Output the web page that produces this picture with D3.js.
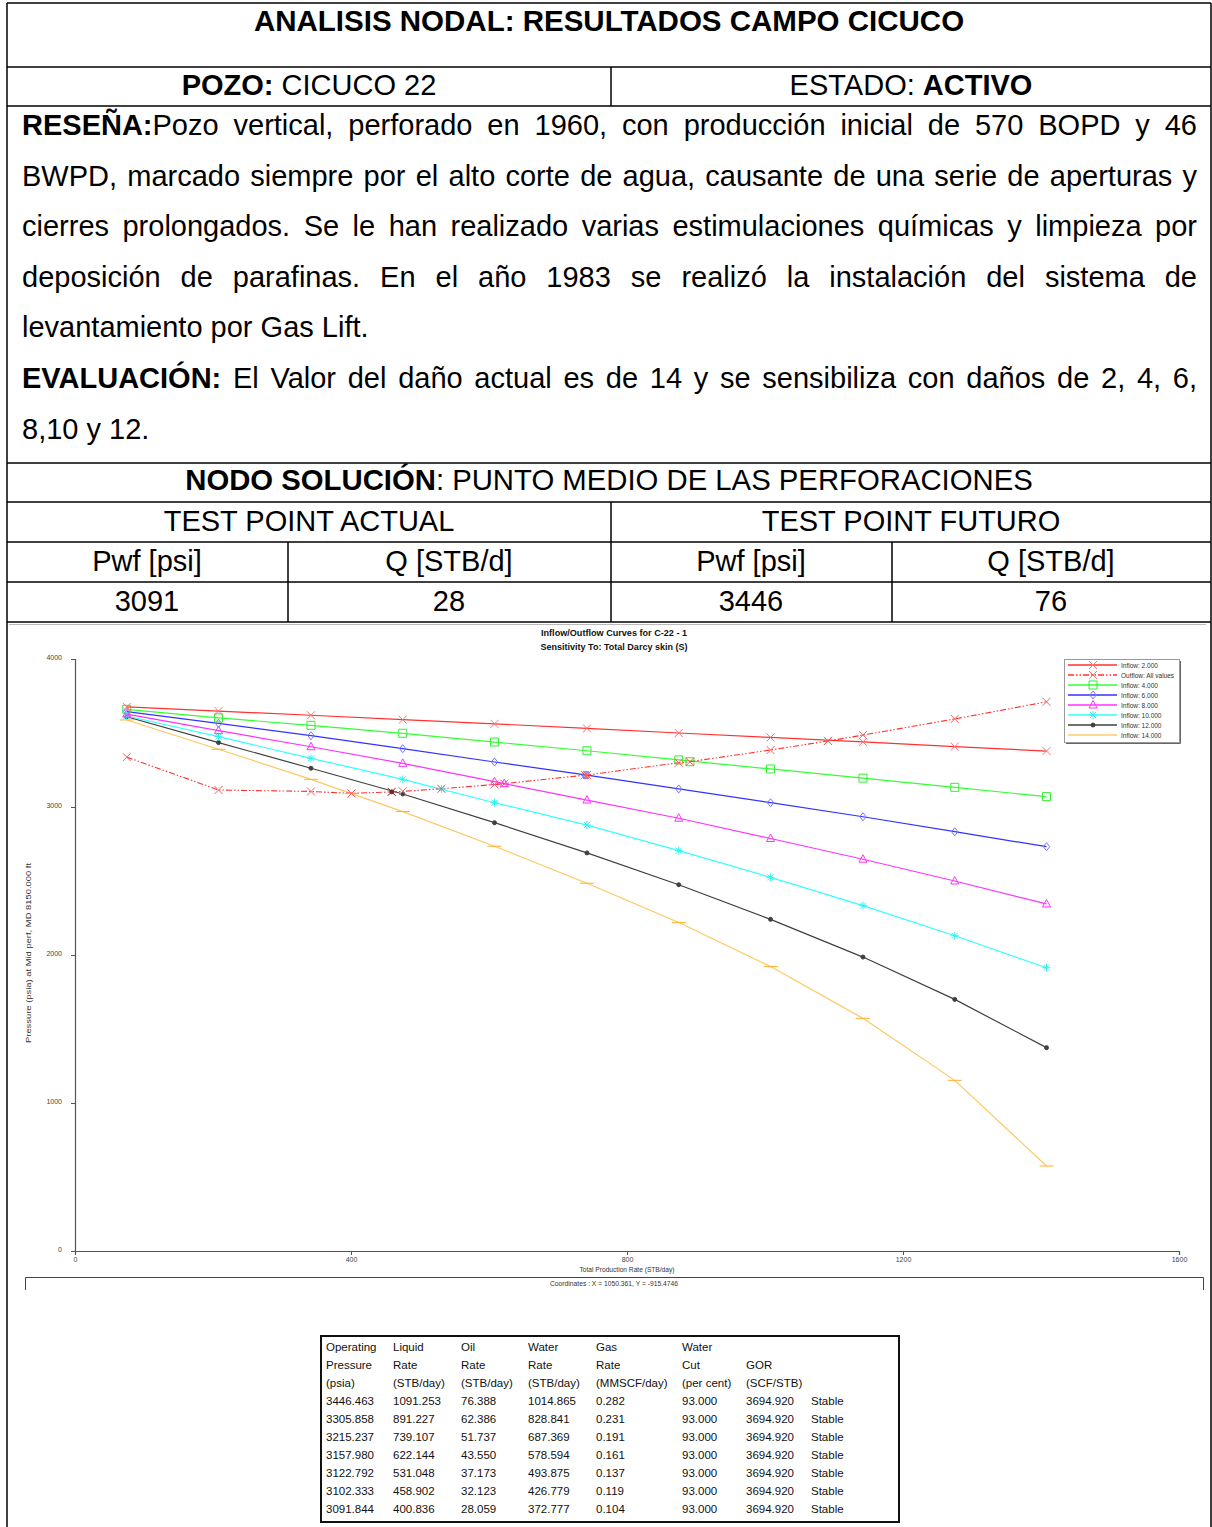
<!DOCTYPE html>
<html>
<head>
<meta charset="utf-8">
<script src="https://cdn.jsdelivr.net/npm/d3@7/dist/d3.min.js"></script>
<style>
  html, body { margin: 0; padding: 0; background: #fff; }
  svg { display: block; font-family: "Liberation Sans", Arial, sans-serif; }
</style>
</head>
<body>
<script>
// ---------------- DATA ----------------
const rates = [75, 208, 342, 475, 608, 742, 875, 1008, 1142, 1275, 1408];
const inflow2  = [3676, 3648, 3620, 3590, 3562, 3531, 3500, 3470, 3440, 3408, 3378];
const inflow4  = [3660, 3602, 3552, 3498, 3439, 3380, 3318, 3257, 3195, 3133, 3070];
const inflow6  = [3644, 3565, 3482, 3394, 3304, 3216, 3122, 3029, 2934, 2833, 2732];
const inflow8  = [3628, 3516, 3407, 3295, 3171, 3047, 2924, 2787, 2647, 2500, 2345];
const inflow10 = [3615, 3475, 3329, 3187, 3029, 2878, 2705, 2525, 2334, 2130, 1914];
const inflow12 = [3610, 3435, 3262, 3088, 2894, 2690, 2475, 2241, 1986, 1700, 1374];
const inflow14 = [3588, 3390, 3187, 2969, 2735, 2485, 2220, 1922, 1572, 1153, 574];
const outflowRates = [75, 208, 342, 401, 459, 475, 531, 608, 622, 739, 742, 875, 891, 1008, 1091, 1142, 1275, 1408];
const outflowPress = [3337, 3115, 3105, 3092, 3102, 3106, 3123, 3152, 3158, 3215, 3216, 3299, 3306, 3385, 3446, 3486, 3595, 3711];
const outflowMarkerRates = [75, 208, 342, 475, 608, 742, 875, 1008, 1142, 1275, 1408];
const outflowMarkerPress = [3337, 3115, 3105, 3106, 3152, 3216, 3299, 3385, 3486, 3595, 3711];

const legendLabels = ["Inflow: 2.000", "Outflow: All values", "Inflow: 4.000", "Inflow: 6.000",
                      "Inflow: 8.000", "Inflow: 10.000", "Inflow: 12.000", "Inflow: 14.000"];
const xTicks = [0, 400, 800, 1200, 1600];
const yTicks = [0, 1000, 2000, 3000, 4000];

// results table (operating points, skin 2 ... 14)
const opPressure = ["3446.463", "3305.858", "3215.237", "3157.980", "3122.792", "3102.333", "3091.844"];
const liquidRate = ["1091.253", "891.227", "739.107", "622.144", "531.048", "458.902", "400.836"];
const oilRate    = ["76.388", "62.386", "51.737", "43.550", "37.173", "32.123", "28.059"];
const waterRate  = ["1014.865", "828.841", "687.369", "578.594", "493.875", "426.779", "372.777"];
const gasRate    = ["0.282", "0.231", "0.191", "0.161", "0.137", "0.119", "0.104"];
const waterCut   = ["93.000", "93.000", "93.000", "93.000", "93.000", "93.000", "93.000"];
const gor        = ["3694.920", "3694.920", "3694.920", "3694.920", "3694.920", "3694.920", "3694.920"];
const status     = ["Stable", "Stable", "Stable", "Stable", "Stable", "Stable", "Stable"];
const tableHeaders = [
  ["Operating", "Pressure", "(psia)"],
  ["Liquid", "Rate", "(STB/day)"],
  ["Oil", "Rate", "(STB/day)"],
  ["Water", "Rate", "(STB/day)"],
  ["Gas", "Rate", "(MMSCF/day)"],
  ["Water", "Cut", "(per cent)"],
  ["", "GOR", "(SCF/STB)"],
  ["", "", ""]
];

// test point table
const testActual = ["3091", "28"];
const testFuturo = ["3446", "76"];

// ---------------- SVG ----------------
const W = 1212, H = 1527;
const svg = d3.select("body").append("svg").attr("width", W).attr("height", H);
const FONT = 29;

// ---- header table ----
const tbl = svg.append("g");
function txt(g, x, y, parts, anchor, size) {
  const t = g.append("text").attr("x", x).attr("y", y)
    .attr("text-anchor", anchor || "middle").attr("font-size", size || FONT).attr("fill", "#000");
  parts.forEach(p => t.append("tspan").attr("font-weight", p[1] ? "bold" : "normal").text(p[0]));
  return t;
}
txt(tbl, 609, 31, [["ANALISIS NODAL: RESULTADOS CAMPO CICUCO", true]], "middle", 29.5);
txt(tbl, 309, 95, [["POZO:", true], [" CICUCO 22", false]]);
txt(tbl, 911, 95, [["ESTADO: ", false], ["ACTIVO", true]]);
txt(tbl, 609, 490, [["NODO SOLUCIÓN", true], [": PUNTO MEDIO DE LAS PERFORACIONES", false]], "middle", 29.3);
txt(tbl, 309, 531, [["TEST POINT ACTUAL", false]]);
txt(tbl, 911, 531, [["TEST POINT FUTURO", false]]);
txt(tbl, 147, 571, [["Pwf [psi]", false]]);
txt(tbl, 449, 571, [["Q [STB/d]", false]]);
txt(tbl, 751, 571, [["Pwf [psi]", false]]);
txt(tbl, 1051, 571, [["Q [STB/d]", false]]);
txt(tbl, 147, 611, [[testActual[0], false]]);
txt(tbl, 449, 611, [[testActual[1], false]]);
txt(tbl, 751, 611, [[testFuturo[0], false]]);
txt(tbl, 1051, 611, [[testFuturo[1], false]]);

// paragraph with justification
const paraLines = [
  {j: true,  w: [[["RESEÑA:", true], ["Pozo", false]], "vertical,", "perforado", "en", "1960,", "con", "producción", "inicial", "de", "570", "BOPD", "y", "46"]},
  {j: true,  w: ["BWPD,", "marcado", "siempre", "por", "el", "alto", "corte", "de", "agua,", "causante", "de", "una", "serie", "de", "aperturas", "y"]},
  {j: true,  w: ["cierres", "prolongados.", "Se", "le", "han", "realizado", "varias", "estimulaciones", "químicas", "y", "limpieza", "por"]},
  {j: true,  w: ["deposición", "de", "parafinas.", "En", "el", "año", "1983", "se", "realizó", "la", "instalación", "del", "sistema", "de"]},
  {j: false, w: ["levantamiento", "por", "Gas", "Lift."]},
  {j: true,  w: [[["EVALUACIÓN:", true]], "El", "Valor", "del", "daño", "actual", "es", "de", "14", "y", "se", "sensibiliza", "con", "daños", "de", "2,", "4,", "6,"]},
  {j: false, w: ["8,10", "y", "12."]}
];
const pLeft = 22, pRight = 1197, pBase0 = 135, pStep = 50.6;
paraLines.forEach((line, li) => {
  const y = pBase0 + li * pStep;
  const nodes = line.w.map(w => {
    const parts = typeof w === "string" ? [[w, false]] : w;
    return txt(tbl, 0, y, parts, "start");
  });
  const widths = nodes.map(n => n.node().getComputedTextLength());
  const total = d3.sum(widths);
  const spaceW = FONT * 0.278;
  const gap = line.j ? (pRight - pLeft - total) / (nodes.length - 1) : spaceW;
  let x = pLeft;
  nodes.forEach((n, i) => { n.attr("x", x); x += widths[i] + gap; });
});

// table lines
const hLines = [3, 67, 106, 463, 502, 542, 582, 622];
tbl.selectAll("line.h").data(hLines).join("line")
  .attr("x1", 7).attr("x2", 1211).attr("y1", d => d).attr("y2", d => d)
  .attr("stroke", "#000").attr("stroke-width", 1.5);
const vLines = [[7, 3, 1527], [1211, 3, 1527], [611, 67, 106], [611, 502, 622], [288, 542, 622], [892, 542, 622]];
tbl.selectAll("line.v").data(vLines).join("line")
  .attr("x1", d => d[0]).attr("x2", d => d[0]).attr("y1", d => d[1]).attr("y2", d => d[2])
  .attr("stroke", "#000").attr("stroke-width", 1.5);

// ---- chart ----
const chart = svg.append("g");
chart.append("line").attr("x1", 9).attr("x2", 1206).attr("y1", 624.5).attr("y2", 624.5)
  .attr("stroke", "#bbb").attr("stroke-width", 1);
const x = d3.scaleLinear().domain([0, 1600]).range([75, 1179]);
const y = d3.scaleLinear().domain([0, 4000]).range([1251, 659]);

chart.append("text").attr("x", 614).attr("y", 636).attr("text-anchor", "middle")
  .attr("font-size", 9).attr("font-weight", "bold").attr("fill", "#111")
  .attr("textLength", 146).attr("lengthAdjust", "spacingAndGlyphs")
  .text("Inflow/Outflow Curves for C-22 - 1");
chart.append("text").attr("x", 614).attr("y", 650).attr("text-anchor", "middle")
  .attr("font-size", 9).attr("font-weight", "bold").attr("fill", "#111")
  .attr("textLength", 147).attr("lengthAdjust", "spacingAndGlyphs")
  .text("Sensitivity To: Total Darcy skin (S)");

// axes
const axColor = "#555";
const gy = chart.append("g").attr("transform", `translate(${x(0)},0)`)
  .call(d3.axisLeft(y).tickValues(yTicks).tickSize(4).tickPadding(9).tickFormat(d3.format("d")));
const gx = chart.append("g").attr("transform", `translate(0,${y(0)})`)
  .call(d3.axisBottom(x).tickValues(xTicks).tickSize(4).tickPadding(2).tickFormat(d3.format("d")));
[gx, gy].forEach(g => {
  g.select(".domain").attr("stroke", axColor).attr("stroke-width", 1.2);
  g.selectAll(".tick line").attr("stroke", axColor);
  g.selectAll(".tick text").attr("font-size", 7).attr("fill", "#444")
    .attr("font-family", "'Liberation Sans', Arial, sans-serif");
});
gy.selectAll(".tick text").attr("dy", "0.1em");

chart.append("text").attr("transform", `translate(31,953) rotate(-90)`).attr("text-anchor", "middle")
  .attr("font-size", 7.5).attr("fill", "#333")
  .attr("textLength", 180).attr("lengthAdjust", "spacingAndGlyphs")
  .text("Pressure (psia) at Mid perf, MD 8150.000 ft");
chart.append("text").attr("x", 627).attr("y", 1272).attr("text-anchor", "middle")
  .attr("font-size", 6.5).attr("fill", "#333")
  .attr("textLength", 95).attr("lengthAdjust", "spacingAndGlyphs")
  .text("Total Production Rate (STB/day)");
// coordinates bar
chart.append("path").attr("d", "M25.5,1290V1277.5H1203.5V1290")
  .attr("fill", "none").attr("stroke", "#444").attr("stroke-width", 1);
chart.append("text").attr("x", 614).attr("y", 1286).attr("text-anchor", "middle")
  .attr("font-size", 6.5).attr("fill", "#333")
  .attr("textLength", 128).attr("lengthAdjust", "spacingAndGlyphs")
  .text("Coordinates :  X = 1050.361,  Y = -915.4746");

// markers
const markerPaths = {
  x: "M-4,-4L4,4M-4,4L4,-4",
  square: "M-4,-4H4V4H-4Z",
  diamond: "M0,-4L3.2,0L0,4L-3.2,0Z",
  triangle: "M0,-4.5L4,3H-4Z",
  asterisk: "M-4,0H4M0,-4V4M-3,-3L3,3M-3,3L3,-3",
  dot: "M-2,0A2,2 0 1,0 2,0A2,2 0 1,0 -2,0Z",
  dash: "M-7,0H7"
};
const series = [
  {name: legendLabels[0], vals: inflow2,  color: "#ff3030", mcolor: "#ff7070", marker: "x"},
  {name: legendLabels[2], vals: inflow4,  color: "#33ff33", mcolor: "#33ee33", marker: "square"},
  {name: legendLabels[3], vals: inflow6,  color: "#3333ff", mcolor: "#7777ff", marker: "diamond"},
  {name: legendLabels[4], vals: inflow8,  color: "#ff33ff", mcolor: "#ff33ff", marker: "triangle"},
  {name: legendLabels[5], vals: inflow10, color: "#33ffff", mcolor: "#33f0f0", marker: "asterisk"},
  {name: legendLabels[6], vals: inflow12, color: "#404040", mcolor: "#404040", marker: "dot"},
  {name: legendLabels[7], vals: inflow14, color: "#ffc860", mcolor: "#ffb030", marker: "dash"}
];
const line = d3.line().x(d => x(d[0])).y(d => y(d[1]));

function drawMarker(g, m, px, py, color) {
  g.append("path").attr("d", markerPaths[m]).attr("transform", `translate(${px},${py})`)
    .attr("fill", m === "dot" ? color : "none").attr("stroke", color).attr("stroke-width", 1);
}

const plot = chart.append("g");
series.slice().reverse().forEach(s => {
  const pts = rates.map((r, i) => [r, s.vals[i]]);
  plot.append("path").attr("d", line(pts)).attr("fill", "none")
    .attr("stroke", s.color).attr("stroke-width", 1.2);
  pts.forEach(p => drawMarker(plot, s.marker, x(p[0]), y(p[1]), s.mcolor));
});
// outflow
const outPts = outflowRates.map((r, i) => [r, outflowPress[i]]);
plot.append("path").attr("d", line(outPts)).attr("fill", "none")
  .attr("stroke", "#ff3030").attr("stroke-width", 1.1).attr("stroke-dasharray", "6,2,1.5,2,1.5,2");
outflowMarkerRates.forEach((r, i) => drawMarker(plot, "x", x(r), y(outflowMarkerPress[i]), "#ff6060"));
// operating points (intersections)
liquidRate.forEach((r, i) => {
  const px = x(+r), py = y(+opPressure[i]);
  drawMarker(plot, series[i].marker, px, py, series[i].mcolor);
  drawMarker(plot, "x", px, py, i === 5 ? "#802020" : "#ff5050");
});

// legend
const lg = chart.append("g");
lg.append("rect").attr("x", 1064.5).attr("y", 659.5).attr("width", 115).attr("height", 83)
  .attr("fill", "#fff").attr("stroke", "#999").attr("stroke-width", 1);
lg.append("path").attr("d", "M1180.5,661V743.5H1066").attr("fill", "none").attr("stroke", "#666").attr("stroke-width", 1);
const legendItems = [
  {label: legendLabels[0], color: "#ff3030", mcolor: "#ff7070", marker: "x", dash: null},
  {label: legendLabels[1], color: "#ff3030", mcolor: "#ff7070", marker: "x", dash: "6,2,1.5,2,1.5,2"},
  {label: legendLabels[2], color: "#33ff33", mcolor: "#33ee33", marker: "square", dash: null},
  {label: legendLabels[3], color: "#3333ff", mcolor: "#7777ff", marker: "diamond", dash: null},
  {label: legendLabels[4], color: "#ff33ff", mcolor: "#ff33ff", marker: "triangle", dash: null},
  {label: legendLabels[5], color: "#33ffff", mcolor: "#33f0f0", marker: "asterisk", dash: null},
  {label: legendLabels[6], color: "#404040", mcolor: "#404040", marker: "dot", dash: null},
  {label: legendLabels[7], color: "#ffd890", mcolor: null, marker: null, dash: null}
];
legendItems.forEach((it, i) => {
  const ly = 665 + i * 10;
  const l = lg.append("line").attr("x1", 1068).attr("x2", 1117).attr("y1", ly).attr("y2", ly)
    .attr("stroke", it.color).attr("stroke-width", i === 7 ? 2 : 1.4);
  if (it.dash) l.attr("stroke-dasharray", it.dash);
  if (it.marker) drawMarker(lg, it.marker, 1093, ly, it.mcolor);
  lg.append("text").attr("x", 1121).attr("y", ly + 2.5).attr("font-size", 6.5).attr("fill", "#333")
    .text(it.label);
});

// ---- results table ----
const rt = svg.append("g");
rt.append("rect").attr("x", 321).attr("y", 1336).attr("width", 578).attr("height", 186)
  .attr("fill", "#fff").attr("stroke", "#111").attr("stroke-width", 2);
const colX = [326, 393, 461, 528, 596, 682, 746, 811];
const rowY0 = 1351, rowStep = 18;
tableHeaders.forEach((h, c) => {
  h.forEach((s, r) => {
    if (s) rt.append("text").attr("x", colX[c]).attr("y", rowY0 + r * rowStep)
      .attr("font-size", 11.5).attr("fill", "#111").text(s);
  });
});
const cols = [opPressure, liquidRate, oilRate, waterRate, gasRate, waterCut, gor, status];
cols.forEach((col, c) => {
  col.forEach((v, r) => {
    rt.append("text").attr("x", colX[c]).attr("y", rowY0 + (r + 3) * rowStep)
      .attr("font-size", 11.5).attr("fill", "#111").text(v);
  });
});
</script>
</body>
</html>
